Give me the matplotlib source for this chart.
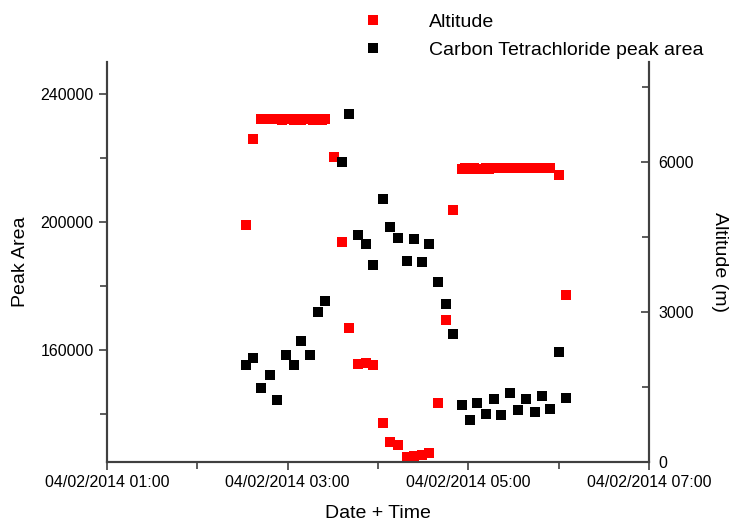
import matplotlib
matplotlib.use("Agg")
import matplotlib.pyplot as plt
import matplotlib.dates as mdates
from matplotlib.lines import Line2D
import pandas as pd

plt.rcParams['font.family'] = ['Liberation Sans', 'DejaVu Sans']

day = "04/02/2014 "

# carbon tetrachloride peak area (left axis)
area_times = ["02:32", "02:37", "02:42", "02:48", "02:53", "02:59", "03:04", "03:09",
              "03:15", "03:20", "03:25", "03:36", "03:41", "03:47", "03:52", "03:57",
              "04:03", "04:08", "04:13", "04:19", "04:24", "04:29", "04:34", "04:40",
              "04:45", "04:50", "04:56", "05:01", "05:06", "05:12", "05:17", "05:22",
              "05:28", "05:33", "05:38", "05:44", "05:49", "05:54", "06:00", "06:05"]
peak_area = [155300, 157400, 148000, 152200, 144300, 158500, 155300, 162800,
             158500, 171900, 175400, 218650, 233650, 196000, 193200, 186700,
             207100, 198400, 195100, 187800, 194600, 187400, 193100, 181350,
             174300, 165000, 142700, 138200, 143500, 140000, 144700, 139600,
             146600, 141350, 144800, 140500, 145500, 141550, 159500, 145100]

# altitude (right axis)
alt_times = ["02:32", "02:37", "02:42", "02:48", "02:50", "02:53", "02:56", "02:59",
             "03:01", "03:04", "03:07", "03:09", "03:12", "03:15", "03:17", "03:20",
             "03:23", "03:25", "03:31", "03:36", "03:41", "03:47", "03:52", "03:57",
             "04:03", "04:08", "04:13", "04:19", "04:24", "04:29", "04:34", "04:40",
             "04:45", "04:50", "04:56", "04:58", "05:01", "05:04", "05:06", "05:09",
             "05:12", "05:14", "05:17", "05:20", "05:22", "05:25", "05:28", "05:30",
             "05:33", "05:36", "05:38", "05:41", "05:44", "05:46", "05:49", "05:52",
             "05:54", "06:00", "06:05"]
altitude = [4740, 6460, 6860, 6860, 6855, 6860, 6850, 6855,
            6860, 6850, 6855, 6850, 6860, 6855, 6850, 6860,
            6850, 6855, 6110, 4395, 2680, 1965, 1980, 1935,
            790, 405, 340, 105, 120, 135, 175, 1180,
            2850, 5040, 5870, 5875, 5870, 5875, 5870, 5870,
            5875, 5870, 5875, 5880, 5875, 5880, 5880, 5875,
            5880, 5880, 5880, 5875, 5880, 5880, 5880, 5875,
            5880, 5735, 3350]

t_area = pd.to_datetime([day + s for s in area_times], format="%d/%m/%Y %H:%M")
t_alt = pd.to_datetime([day + s for s in alt_times], format="%d/%m/%Y %H:%M")

fig = plt.figure(figsize=(7.31, 5.22), dpi=100)
ax = fig.add_axes([0.1464, 0.1149, 0.7414, 0.7663])
ax2 = ax.twinx()
ax.set_zorder(ax2.get_zorder() + 1)
ax.patch.set_visible(False)

ms = 6.5
ax2.plot(t_alt, altitude, 's', color='#ff0000', markersize=ms, markeredgewidth=0)
ax.plot(t_area, peak_area, 's', color='black', markersize=ms, markeredgewidth=0)

ax.set_xlim(pd.Timestamp("2014-02-04 01:00"), pd.Timestamp("2014-02-04 07:00"))
ax.set_ylim(125000, 250000)
ax2.set_ylim(0, 8000)

ax.xaxis.set_major_locator(mdates.HourLocator(byhour=[1, 3, 5, 7]))
ax.xaxis.set_minor_locator(mdates.HourLocator(byhour=[2, 4, 6]))
ax.xaxis.set_major_formatter(mdates.DateFormatter("%d/%m/%Y %H:%M"))
ax.set_yticks([160000, 200000, 240000])
ax.set_yticks([140000, 180000, 220000], minor=True)
ax2.set_yticks([0, 3000, 6000])
ax2.set_yticks([1500, 4500, 7500], minor=True)

spine_col = '#404040'
for a in (ax, ax2):
    a.spines['top'].set_visible(False)
    for s in ('left', 'right', 'bottom'):
        a.spines[s].set_linewidth(1.5)
        a.spines[s].set_color(spine_col)
ax.tick_params(which='major', direction='out', length=6, width=1.2,
               color=spine_col, labelsize=11.5)
ax.tick_params(which='minor', direction='out', length=5, width=1.2, color=spine_col)
ax2.tick_params(which='major', direction='in', length=6, width=1.2, pad=6.5,
                color=spine_col, labelsize=11.5)
ax2.tick_params(which='minor', direction='in', length=5, width=1.2, color=spine_col)

ax.set_xlabel("Date + Time", fontsize=14, labelpad=11)
ax.set_ylabel("Peak Area", fontsize=14, labelpad=8)
ax2.set_ylabel("Altitude (m)", fontsize=14, rotation=270, labelpad=25)

handles = [Line2D([], [], marker='s', color='#ff0000', linestyle='none', markersize=ms, markeredgewidth=0),
           Line2D([], [], marker='s', color='black', linestyle='none', markersize=ms, markeredgewidth=0)]
fig.legend(handles, ["Altitude", "Carbon Tetrachloride peak area"],
           loc='upper left', bbox_to_anchor=(0.46, 1.008), frameon=False,
           fontsize=14, handletextpad=1.88, labelspacing=0.52)

fig.savefig("out.png", dpi=100)
